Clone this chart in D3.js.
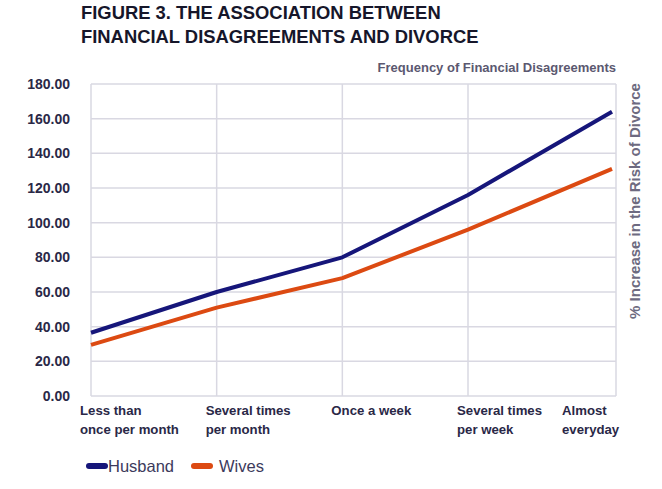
<!DOCTYPE html>
<html><head><meta charset="utf-8">
<script src="https://cdn.jsdelivr.net/npm/d3@7"></script>
<style>
body{margin:0;background:#fff;}
svg{display:block;}
text{font-family:"Liberation Sans Narrow","Arial Narrow","Liberation Sans",Arial,sans-serif;}
</style></head><body>
<svg id="chart" width="662" height="489"></svg>
<script>
const categories = [["Less than","once per month"],["Several times","per month"],["Once a week"],["Several times","per week"],["Almost","everyday"]];
const husband = [36.5, 60, 80, 116, 164];
const wives = [29.5, 51, 68, 96, 131];
const yTicks = [0,20,40,60,80,100,120,140,160,180];
const seriesNames = ["Husband","Wives"];
const colors = ["#16167a","#dc4a12"];

const svg = d3.select("#chart");
const y = d3.scaleLinear().domain([0,180]).range([396,84]);
const x = d3.scaleLinear().domain([0,3,4]).range([91,468,612]);
const right = 616;

// title
const title = svg.append("g").attr("font-weight","bold").attr("fill","#16162a")
  .style("font-family","'Liberation Sans',Arial,sans-serif").attr("font-size",18.4);
title.append("text").attr("x",81).attr("y",19).text("FIGURE 3. THE ASSOCIATION BETWEEN");
title.append("text").attr("x",81).attr("y",43).text("FINANCIAL DISAGREEMENTS AND DIVORCE");

svg.append("text").attr("x",right).attr("y",72).attr("text-anchor","end")
  .attr("font-weight","bold").attr("font-size",13).attr("fill","#5b5870")
  .text("Frequency of Financial Disagreements");

// grid
const grid = svg.append("g").attr("stroke","#d9d8e2").attr("stroke-width",1.5);
grid.selectAll(".h").data(yTicks).join("line")
  .attr("x1",91).attr("x2",right).attr("y1",d=>y(d)).attr("y2",d=>y(d));
grid.selectAll(".v").data(d3.range(categories.length-1)).join("line")
  .attr("x1",d=>x(d)).attr("x2",d=>x(d)).attr("y1",y(180)).attr("y2",y(0));
grid.append("line").attr("x1",right).attr("x2",right).attr("y1",y(180)).attr("y2",y(0));

// y axis labels
svg.append("g").selectAll("text").data(yTicks).join("text")
  .attr("x",70).attr("y",d=>y(d)+5).attr("text-anchor","end")
  .attr("font-weight","bold").attr("font-size",14).attr("fill","#2a2847")
  .text(d=>d.toFixed(2));

// x labels
const xl = svg.append("g").attr("font-weight","bold").attr("font-size",13.2).attr("fill","#2a2847");
categories.forEach((c,i)=>{
  const px = i===4 ? x(i)-50 : x(i)-11;
  const t = xl.append("text").attr("x", px).attr("y",415);
  c.forEach((line,j)=>t.append("tspan").attr("x", px).attr("dy", j===0?0:19).text(line));
});

// right axis title
svg.append("text").attr("transform",`translate(640,201) rotate(-90)`)
  .attr("text-anchor","middle").attr("font-weight","bold").attr("font-size",15)
  .attr("fill","#6d6a80").style("font-family","'Liberation Sans',Arial,sans-serif")
  .text("% Increase in the Risk of Divorce");

// lines
const line = d3.line().x((d,i)=>x(i)).y(d=>y(d));
[husband,wives].forEach((s,k)=>{
  svg.append("path").datum(s).attr("d",line).attr("fill","none")
    .attr("stroke",colors[k]).attr("stroke-width",4).attr("stroke-linejoin","round");
});

// legend
const leg = svg.append("g").style("font-family","'Liberation Sans',Arial,sans-serif");
const legX = [86,191];
seriesNames.forEach((n,k)=>{
  leg.append("line").attr("x1",legX[k]+3).attr("x2",legX[k]+19).attr("y1",466).attr("y2",466)
    .attr("stroke",colors[k]).attr("stroke-width",6).attr("stroke-linecap","round");
  leg.append("text").attr("x",legX[k]+(k===0?22:28)).attr("y",471.5).attr("font-size",16.5)
    .attr("fill","#3c3a5c").text(n);
});
</script></body></html>
